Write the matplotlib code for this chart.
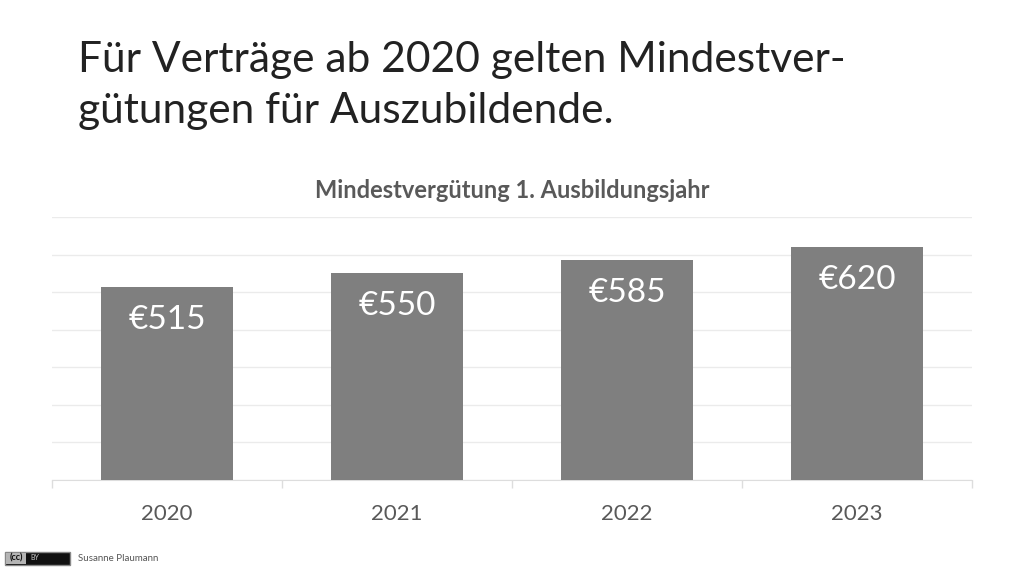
import matplotlib
matplotlib.use("Agg")
from matplotlib import pyplot as plt
from matplotlib.patches import Rectangle

years = ['2020', '2021', '2022', '2023']
verguetung = [515, 550, 585, 620]
euro_labels = ['€515', '€550', '€585', '€620']
y_gridlines = [0, 100, 200, 300, 400, 500, 600, 700]

plt.rcParams['font.family'] = ['Lato', 'DejaVu Sans']

W, H = 1024, 576
fig = plt.figure(figsize=(W / 100, H / 100), dpi=100)

# axes box in pixels from the reference
left, right, top, bottom = 52, 972, 217, 480
ax = fig.add_axes([left / W, 1 - bottom / H, (right - left) / W, (bottom - top) / H])

positions = list(range(len(years)))
ax.bar(positions, verguetung, width=0.57, color='#7f7f7f', zorder=3)

ax.set_xlim(-0.5, 3.5)
ax.set_ylim(0, 700)
ax.set_yticks(y_gridlines)
ax.tick_params(axis='y', length=0, labelleft=False)
ax.grid(axis='y', color='#ebebeb', linewidth=1, zorder=0)

ax.set_xticks(positions)
ax.set_xticklabels(years, fontsize=16, color='#595959')
ax.set_xticks([-0.5, 0.5, 1.5, 2.5, 3.5], minor=True)
ax.tick_params(axis='x', which='major', length=0, pad=17)
ax.tick_params(axis='x', which='minor', length=6, color='#dddddd', width=1)

for side in ['top', 'left', 'right']:
    ax.spines[side].set_visible(False)
ax.spines['bottom'].set_color('#dddddd')

for pos, val, lab in zip(positions, verguetung, euro_labels):
    ax.annotate(lab, (pos, val), xytext=(0, -13), textcoords='offset points',
                ha='center', va='top', color='white', fontsize=24, zorder=4)

# slide title
fig.text(78 / W, 1 - 60 / H, 'Für Verträge ab 2020 gelten Mindestver-',
         fontsize=30.6, color='#222222', va='center', ha='left')
fig.text(78 / W, 1 - 111 / H, 'gütungen für Auszubildende.',
         fontsize=30.6, color='#222222', va='center', ha='left')

# chart title
fig.text(512 / W, 1 - 190 / H, 'Mindestvergütung 1. Ausbildungsjahr',
         fontsize=17, color='#595959', fontweight='bold', va='center', ha='center')

# licence badge and name
fig.add_artist(Rectangle((5 / W, 1 - 565 / H), 65 / W, 13 / H, transform=fig.transFigure,
                         facecolor='#111111', edgecolor='#888888', linewidth=1))
fig.add_artist(Rectangle((6 / W, 1 - 564 / H), 20 / W, 11 / H, transform=fig.transFigure,
                         facecolor='#b5b5b5', edgecolor='none'))
fig.text(16 / W, 1 - 558 / H, '(cc)', fontsize=6.5, color='#111111', fontweight='bold',
         va='center', ha='center')
fig.text(35 / W, 1 - 558 / H, 'BY', fontsize=5, color='#cccccc', va='center', ha='center')
fig.text(78 / W, 1 - 558.5 / H, 'Susanne Plaumann', fontsize=7, color='#555555',
         va='center', ha='left')

fig.savefig('out.png', dpi=100)
